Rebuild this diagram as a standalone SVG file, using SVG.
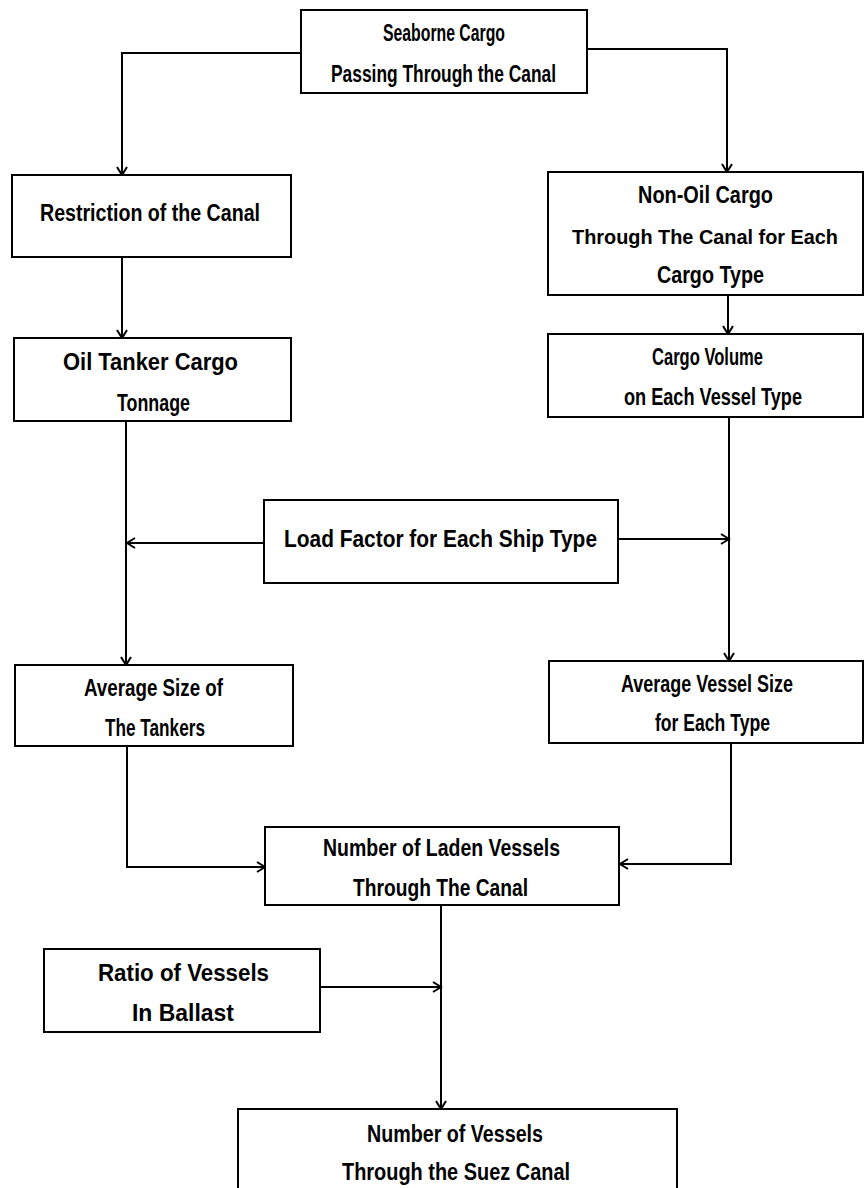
<svg xmlns="http://www.w3.org/2000/svg" width="865" height="1188" viewBox="0 0 865 1188">
  <style>
    .box { fill: #ffffff; stroke: #000000; stroke-width: 2; }
    .lbl { font-family: "Liberation Sans Narrow", "Liberation Sans", Arial, sans-serif; font-size: 23px; font-weight: bold; fill: #000000; text-anchor: middle; }
    .wire { fill: none; stroke: #000000; stroke-width: 2; marker-end: url(#chev); }
  </style>
  <defs>
    <marker id="chev" viewBox="-10 -7 12 14" refX="0" refY="0" markerWidth="12" markerHeight="14" markerUnits="userSpaceOnUse" orient="auto">
      <path d="M-8,-5 L0,0 L-8,5" fill="none" stroke="#000000" stroke-width="2"/>
    </marker>
  </defs>
  <rect width="865" height="1188" fill="#ffffff"/>

  <!-- connectors -->
  <g id="connectors">
    <path class="wire" d="M301,53 H122 V175"/>
    <path class="wire" d="M587,49 H727 V172"/>
    <path class="wire" d="M122,257 V338"/>
    <path class="wire" d="M728,295 V334"/>
    <path class="wire" d="M126,421 V665"/>
    <path class="wire" d="M729,417 V661"/>
    <path class="wire" d="M264,543 H127"/>
    <path class="wire" d="M618,539 H729"/>
    <path class="wire" d="M127,746 V867 H265"/>
    <path class="wire" d="M731,743 V864 H620"/>
    <path class="wire" d="M441,905 V1109"/>
    <path class="wire" d="M320,987 H441"/>
  </g>

  <g id="seaborne-cargo">
    <rect class="box" x="301" y="10" width="286" height="83"/>
    <text class="lbl" x="444" y="41" textLength="122" lengthAdjust="spacingAndGlyphs">Seaborne Cargo</text>
    <text class="lbl" x="443.5" y="82" textLength="225" lengthAdjust="spacingAndGlyphs">Passing Through the Canal</text>
  </g>

  <g id="restriction">
    <rect class="box" x="12" y="175" width="279" height="82"/>
    <text class="lbl" x="150" y="221" textLength="220" lengthAdjust="spacingAndGlyphs">Restriction of the Canal</text>
  </g>

  <g id="non-oil-cargo">
    <rect class="box" x="548" y="172" width="315" height="123"/>
    <text class="lbl" x="705.5" y="203" textLength="135" lengthAdjust="spacingAndGlyphs">Non-Oil Cargo</text>
    <text class="lbl" x="705" y="244" style="font-size:21px" textLength="266" lengthAdjust="spacingAndGlyphs">Through The Canal for Each</text>
    <text class="lbl" x="710.5" y="283" textLength="107" lengthAdjust="spacingAndGlyphs">Cargo Type</text>
  </g>

  <g id="oil-tanker">
    <rect class="box" x="14" y="338" width="277" height="83"/>
    <text class="lbl" x="150.5" y="370" textLength="175" lengthAdjust="spacingAndGlyphs">Oil Tanker Cargo</text>
    <text class="lbl" x="153.5" y="411" textLength="73" lengthAdjust="spacingAndGlyphs">Tonnage</text>
  </g>

  <g id="cargo-volume">
    <rect class="box" x="548" y="334" width="315" height="83"/>
    <text class="lbl" x="707.5" y="365" textLength="111" lengthAdjust="spacingAndGlyphs">Cargo Volume</text>
    <text class="lbl" x="713" y="405" textLength="178" lengthAdjust="spacingAndGlyphs">on Each Vessel Type</text>
  </g>

  <g id="load-factor">
    <rect class="box" x="264" y="500" width="354" height="83"/>
    <text class="lbl" x="440.5" y="547" textLength="313" lengthAdjust="spacingAndGlyphs">Load Factor for Each Ship Type</text>
  </g>

  <g id="tanker-size">
    <rect class="box" x="15" y="665" width="278" height="81"/>
    <text class="lbl" x="153.5" y="696" textLength="139" lengthAdjust="spacingAndGlyphs">Average Size of</text>
    <text class="lbl" x="155" y="736" textLength="100" lengthAdjust="spacingAndGlyphs">The Tankers</text>
  </g>

  <g id="vessel-size">
    <rect class="box" x="549" y="661" width="314" height="82"/>
    <text class="lbl" x="707" y="692" textLength="172" lengthAdjust="spacingAndGlyphs">Average Vessel Size</text>
    <text class="lbl" x="712.5" y="731" textLength="115" lengthAdjust="spacingAndGlyphs">for Each Type</text>
  </g>

  <g id="laden-vessels">
    <rect class="box" x="265" y="827" width="354" height="78"/>
    <text class="lbl" x="441.5" y="856" textLength="237" lengthAdjust="spacingAndGlyphs">Number of Laden Vessels</text>
    <text class="lbl" x="440.5" y="896" textLength="175" lengthAdjust="spacingAndGlyphs">Through The Canal</text>
  </g>

  <g id="ballast-ratio">
    <rect class="box" x="44" y="949" width="276" height="83"/>
    <text class="lbl" x="183.5" y="981" textLength="171" lengthAdjust="spacingAndGlyphs">Ratio of Vessels</text>
    <text class="lbl" x="183" y="1021" textLength="102" lengthAdjust="spacingAndGlyphs">In Ballast</text>
  </g>

  <g id="suez-vessels">
    <rect class="box" x="238" y="1109" width="439" height="90"/>
    <text class="lbl" x="455" y="1142" textLength="176" lengthAdjust="spacingAndGlyphs">Number of Vessels</text>
    <text class="lbl" x="456" y="1180" textLength="228" lengthAdjust="spacingAndGlyphs">Through the Suez Canal</text>
  </g>
</svg>
